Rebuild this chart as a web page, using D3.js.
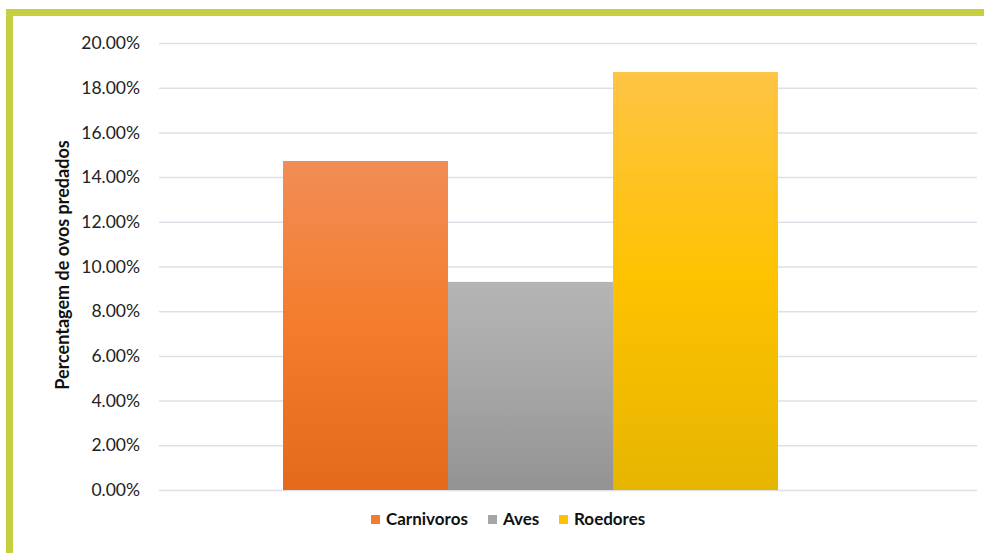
<!DOCTYPE html>
<html>
<head>
<meta charset="utf-8">
<script src="https://cdn.jsdelivr.net/npm/d3@7"></script>
<style>
  html, body { margin: 0; padding: 0; background: #ffffff; }
  svg { display: block; font-family: Lato, "Open Sans", "Liberation Sans", sans-serif; }
</style>
</head>
<body>
<svg id="chart" width="984" height="553"></svg>
<script>
// Egg predation share by predator group
const series = ["Carnivoros", "Aves", "Roedores"];
const values = [0.1472, 0.0931, 0.1870];
const tickValues = [0, 0.02, 0.04, 0.06, 0.08, 0.10, 0.12, 0.14, 0.16, 0.18, 0.20];
const yLabel = "Percentagem de ovos predados";

// gradient stops per series: [top, middle, bottom]
const gradients = [
  ["#f18d55", "#f47c2c", "#e5691a"],
  ["#b5b5b5", "#a6a6a6", "#939393"],
  ["#fec444", "#fec200", "#e6b500"]
];
const legendColors = ["#f47c2c", "#a6a6a6", "#fec200"];

const svg = d3.select("#chart");

// frame in yellow-green along the left and top edges
svg.append("rect").attr("x", 6).attr("y", 9).attr("width", 984).attr("height", 7).attr("fill", "#c5cf3f");
svg.append("rect").attr("x", 6).attr("y", 9).attr("width", 7).attr("height", 553).attr("fill", "#c5cf3f");

const plot = { left: 159, right: 977, top: 43, bottom: 490 };

const y = d3.scaleLinear().domain([0, 0.20]).range([plot.bottom, plot.top]);
const x = d3.scaleBand().domain(series).range([283, 778]).padding(0);

const defs = svg.append("defs");
gradients.forEach((g, i) => {
  const lg = defs.append("linearGradient")
    .attr("id", "grad" + i)
    .attr("x1", 0).attr("y1", 0).attr("x2", 0).attr("y2", 1);
  lg.append("stop").attr("offset", "0%").attr("stop-color", g[0]);
  lg.append("stop").attr("offset", "50%").attr("stop-color", g[1]);
  lg.append("stop").attr("offset", "100%").attr("stop-color", g[2]);
});

// horizontal gridlines with percentage labels
const yAxis = d3.axisLeft(y)
  .tickValues(tickValues)
  .tickFormat(d3.format(".2%"))
  .tickSize(-(plot.right - plot.left))
  .tickPadding(19);

const gAxis = svg.append("g")
  .attr("transform", `translate(${plot.left},0)`)
  .call(yAxis);
gAxis.select(".domain").remove();
gAxis.selectAll(".tick line").attr("stroke", "#dde1e7").attr("stroke-width", 1.5);
gAxis.selectAll(".tick text")
  .attr("fill", "#222222")
  .style("font-size", "17.5px")
  .style("font-family", "Lato, 'Open Sans', sans-serif");

// bars
svg.append("g")
  .selectAll("rect")
  .data(series)
  .join("rect")
  .attr("x", d => x(d))
  .attr("width", x.bandwidth())
  .attr("y", (d, i) => y(values[i]))
  .attr("height", (d, i) => y(0) - y(values[i]))
  .attr("fill", (d, i) => `url(#grad${i})`);

// y axis title
svg.append("text")
  .attr("transform", `translate(69,265) rotate(-90)`)
  .attr("text-anchor", "middle")
  .attr("fill", "#111111")
  .style("font-size", "18px")
  .style("font-weight", "bold")
  .text(yLabel);

// legend
const legendItems = [
  { x: 371, label: series[0], color: legendColors[0] },
  { x: 488, label: series[1], color: legendColors[1] },
  { x: 559, label: series[2], color: legendColors[2] }
];
const lg = svg.append("g");
legendItems.forEach(item => {
  lg.append("rect")
    .attr("x", item.x).attr("y", 515)
    .attr("width", 9).attr("height", 9)
    .attr("fill", item.color);
  lg.append("text")
    .attr("x", item.x + 15).attr("y", 525)
    .attr("fill", "#111111")
    .style("font-size", "17px")
    .style("font-weight", "bold")
    .text(item.label);
});
</script>
</body>
</html>
